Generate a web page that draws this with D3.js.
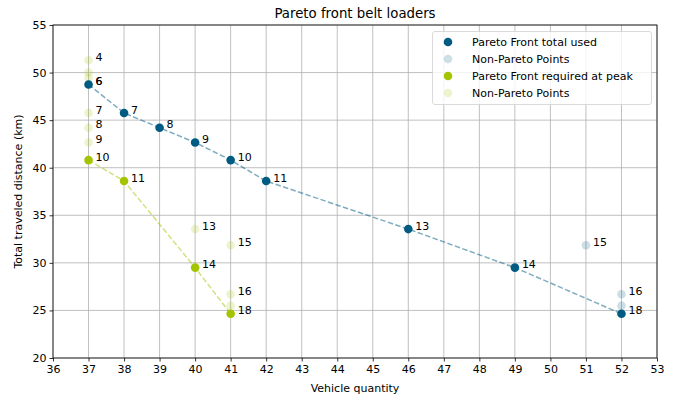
<!DOCTYPE html>
<html><head><meta charset="utf-8">
<script src="https://cdn.jsdelivr.net/npm/d3@7"></script>
<style>body{margin:0;background:#fff}svg{display:block;font-family:"DejaVu Sans",sans-serif}</style>
</head><body><svg id="c" width="694" height="398"></svg>
<script>
// data
const pointLabels   = ["4", "", "", "6", "7", "8", "9", "10", "11", "13", "14", "15", "16", "", "18"];
const distanceKm    = [51.3, 50.0, 49.45, 48.75, 45.75, 44.2, 42.65, 40.8, 38.6, 33.55, 29.5, 31.85, 26.7, 25.5, 24.65];
const totalUsed     = [null, null, null, 37, 38, 39, 40, 41, 42, 46, 49, 51, 52, 52, 52];
const requiredPeak  = [37, 37, 37, 37, 37, 37, 37, 37, 38, 40, 40, 41, 41, 41, 41];
const paretoTotalIdx = [3, 4, 5, 6, 7, 8, 9, 10, 14];
const paretoPeakIdx  = [7, 8, 10, 14];
const xTicks = d3.range(36, 54, 1);
const yTicks = [20, 25, 30, 35, 40, 45, 50, 55];
const legendNames = ["Pareto Front total used", "Non-Pareto Points", "Pareto Front required at peak", "Non-Pareto Points"];

const blue = "#005b82", green = "#a3c400";
const svg = d3.select("#c");
const L = 53, R = 657, T = 25, B = 358;
const x = d3.scaleLinear().domain([36, 53]).range([L, R]);
const y = d3.scaleLinear().domain([20, 55]).range([B, T]);

// grid
const g = svg.append("g");
g.selectAll(".gx").data(xTicks).join("line").attr("x1", d => x(d)).attr("x2", d => x(d))
  .attr("y1", T).attr("y2", B).attr("stroke", "#b0b0b0").attr("stroke-width", 0.8);
g.selectAll(".gy").data(yTicks).join("line").attr("y1", d => y(d)).attr("y2", d => y(d))
  .attr("x1", L).attr("x2", R).attr("stroke", "#b0b0b0").attr("stroke-width", 0.8);

// axes
const xa = svg.append("g").attr("transform", `translate(0,${B})`)
  .call(d3.axisBottom(x).tickValues(xTicks).tickFormat(d3.format("d")).tickSize(3.5).tickPadding(4));
const ya = svg.append("g").attr("transform", `translate(${L},0)`)
  .call(d3.axisLeft(y).tickValues(yTicks).tickFormat(d3.format("d")).tickSize(3.5).tickPadding(3));
[xa, ya].forEach(a => { a.selectAll("text").attr("font-size", 11).attr("fill", "#000").attr("font-family", "DejaVu Sans");
  a.selectAll("line").attr("stroke", "#000").attr("stroke-width", 0.8); a.select(".domain").remove(); });
svg.append("rect").attr("x", L).attr("y", T).attr("width", R - L).attr("height", B - T)
  .attr("fill", "none").attr("stroke", "#000").attr("stroke-width", 0.8);

svg.append("text").attr("x", (L + R) / 2).attr("y", 18).attr("text-anchor", "middle").attr("font-size", 13.3).text("Pareto front belt loaders");
svg.append("text").attr("x", (L + R) / 2).attr("y", 392).attr("text-anchor", "middle").attr("font-size", 11).text("Vehicle quantity");
svg.append("text").attr("transform", `translate(22,${(T + B) / 2}) rotate(-90)`).attr("text-anchor", "middle").attr("font-size", 11).text("Total traveled distance (km)");

const idx = d3.range(distanceKm.length);
function series(xs, pIdx, col) {
  const has = idx.filter(i => xs[i] != null);
  const non = has.filter(i => !pIdx.includes(i));
  const line = d3.line().x(i => x(xs[i])).y(i => y(distanceKm[i]));
  svg.append("g").selectAll("circle").data(non).join("circle").attr("cx", i => x(xs[i])).attr("cy", i => y(distanceKm[i]))
    .attr("r", 4.3).attr("fill", col).attr("fill-opacity", 0.2);
  svg.append("path").attr("d", line(pIdx)).attr("fill", "none").attr("stroke", col).attr("stroke-opacity", 0.5)
    .attr("stroke-width", 1.5).attr("stroke-dasharray", "5.5,2.4");
  svg.append("g").selectAll("circle").data(pIdx).join("circle").attr("cx", i => x(xs[i])).attr("cy", i => y(distanceKm[i]))
    .attr("r", 4.3).attr("fill", col);
  svg.append("g").selectAll("text").data(has.filter(i => pointLabels[i])).join("text")
    .attr("x", i => x(xs[i]) + 7).attr("y", i => y(distanceKm[i]) + 0.5).attr("font-size", 11).text(i => pointLabels[i]);
}
series(requiredPeak, paretoPeakIdx, green);
series(totalUsed, paretoTotalIdx, blue);

// legend
const lg = svg.append("g");
lg.append("rect").attr("x", 432.5).attr("y", 31.5).attr("width", 219).attr("height", 73).attr("rx", 2.5)
  .attr("fill", "#fff").attr("fill-opacity", 0.8).attr("stroke", "#d0d0d0").attr("stroke-width", 0.8);
const lcol = [[blue, 1], [blue, 0.2], [green, 1], [green, 0.2]];
legendNames.forEach((n, k) => {
  const yy = 42 + k * 17;
  lg.append("circle").attr("cx", 448).attr("cy", yy).attr("r", 4.3).attr("fill", lcol[k][0]).attr("fill-opacity", lcol[k][1]);
  lg.append("text").attr("x", 472).attr("y", yy + 4).attr("font-size", 11).text(n);
});
</script></body></html>
